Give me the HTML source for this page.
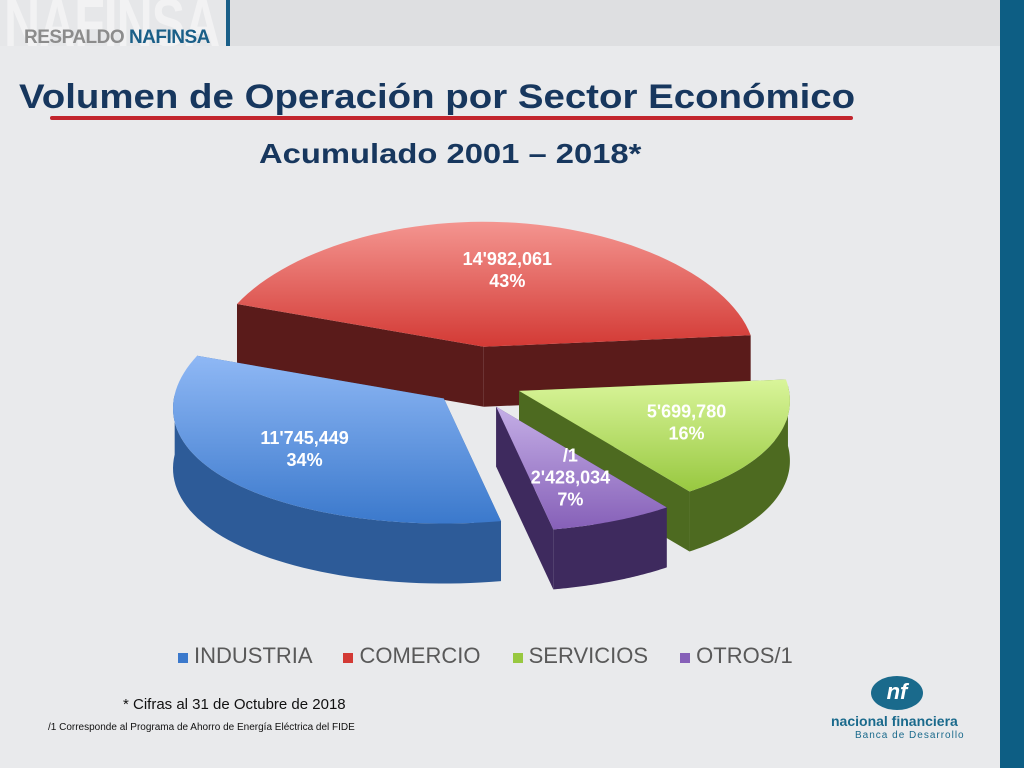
<!DOCTYPE html>
<html><head><meta charset="utf-8">
<style>
body{margin:0;width:1024px;height:768px;overflow:hidden;background:#e9eaec;font-family:"Liberation Sans",sans-serif;position:relative}
.abs{position:absolute}
</style></head>
<body>
<div class="abs" style="left:0;top:0;width:1000px;height:46px;background:#dedfe1"></div>
<div class="abs" style="left:0;top:0;width:226px;height:46px;background:#e6e7e9;overflow:hidden">
<div class="abs" style="left:4px;top:-16px;font-size:50px;font-weight:bold;color:#f2f2f3;letter-spacing:-1px;transform:scaleY(1.35);transform-origin:left top">NAFINSA</div>
</div>
<div class="abs" style="left:24px;top:27px;font-size:19px;font-weight:bold;color:#8c8c8c;letter-spacing:-0.5px">RESPALDO <span style="color:#1a5f88">NAFINSA</span></div>
<div class="abs" style="left:226px;top:0;width:4px;height:46px;background:#1a5f88"></div>
<div class="abs" style="left:1000px;top:0;width:24px;height:768px;background:#0d5e84"></div>
<div class="abs" style="left:19px;top:78px;font-size:34px;font-weight:bold;color:#17375e;transform:scaleX(1.13);transform-origin:left top;white-space:nowrap">Volumen de Operación por Sector Económico</div>
<div class="abs" style="left:50px;top:116px;width:803px;height:4px;background:#c2252d;border-radius:2px"></div>
<div class="abs" style="left:259px;top:138px;font-size:28px;font-weight:bold;color:#17375e;transform:scaleX(1.17);transform-origin:left top;white-space:nowrap">Acumulado 2001 – 2018*</div>

<svg class="abs" style="left:0;top:0" width="1000" height="768">
<defs>
<linearGradient id="g0" x1="0" y1="0" x2="0" y2="1"><stop offset="0" stop-color="#8fb8f5"/><stop offset="1" stop-color="#3b79cc"/></linearGradient>
<linearGradient id="g1" x1="0" y1="0" x2="0" y2="1"><stop offset="0" stop-color="#f49590"/><stop offset="1" stop-color="#d33a35"/></linearGradient>
<linearGradient id="g2" x1="0" y1="0" x2="0" y2="1"><stop offset="0" stop-color="#d9f59a"/><stop offset="1" stop-color="#98c840"/></linearGradient>
<linearGradient id="g3" x1="0" y1="0" x2="0" y2="1"><stop offset="0" stop-color="#c4aee6"/><stop offset="1" stop-color="#8660b8"/></linearGradient>
</defs>
<g id="pie"></g>
</svg>

<div class="abs" style="left:178px;top:643px;font-size:22px;color:#595959;white-space:nowrap">
<span><span style="display:inline-block;width:10px;height:10px;background:#3b79cc;margin-right:6px"></span>INDUSTRIA</span>
<span style="margin-left:26px"><span style="display:inline-block;width:10px;height:10px;background:#d33a35;margin-right:6px"></span>COMERCIO</span>
<span style="margin-left:26px"><span style="display:inline-block;width:10px;height:10px;background:#98c840;margin-right:6px"></span>SERVICIOS</span>
<span style="margin-left:26px"><span style="display:inline-block;width:10px;height:10px;background:#8660b8;margin-right:6px"></span>OTROS/1</span>
</div>
<div class="abs" style="left:123px;top:696px;font-size:15px;color:#111">* Cifras al 31 de Octubre de 2018</div>
<div class="abs" style="left:48px;top:722px;font-size:10px;color:#111">/1 Corresponde al Programa de Ahorro de Energía Eléctrica del FIDE</div>

<div class="abs" style="left:871px;top:676px;width:52px;height:34px;border-radius:50%;background:#1a6a8c;color:#fff;font-weight:bold;font-size:22px;text-align:center;line-height:32px;font-style:italic">nf</div>
<div class="abs" style="left:831px;top:713px;font-size:14px;font-weight:bold;color:#1a6a8c">nacional financiera</div>
<div class="abs" style="left:855px;top:730px;font-size:10px;color:#1a6a8c;letter-spacing:1px">Banca de Desarrollo</div>

<script>
const categories=["COMERCIO","SERVICIOS","OTROS","INDUSTRIA"];
const values=[14982061,5699780,2428034,11745449];
const valueLabels=["14'982,061","5'699,780","2'428,034","11'745,449"];
const prefixLabels=["","","/1",""];
const tops=["url(#g1)","url(#g2)","url(#g3)","url(#g0)"];
const sides=["#5a1b1a","#4d6a20","#3e2a5e","#2d5b98"];
const cx=478,cy=378,rx=270,ry=125,depth=60,explode=45,startAngle=-70;
const NS="http://www.w3.org/2000/svg";
const g=document.getElementById('pie');
const total=values.reduce((a,b)=>a+b,0);
const rad=d=>d*Math.PI/180;
let a=startAngle;
const slices=values.map((v,i)=>{const s=a,e=a+v/total*360;a=e;return{i,s,e,m:(s+e)/2};});
function pt(ox,oy,t,dz){const c=Math.cos(rad(t));return [ox+rx*Math.sin(rad(t))*(1-0.08*c),oy-ry*c+dz];}
function mk(tag,attrs,name){const el=document.createElementNS(NS,tag);for(const k in attrs)el.setAttribute(k,attrs[k]);


g.appendChild(el);return el;}
const order=[...slices].sort((p,q)=>Math.cos(rad(q.m))-Math.cos(rad(p.m)));
order.forEach(sl=>{
  const i=sl.i;
  const ox=cx+explode*Math.sin(rad(sl.m)),oy=cy-explode*0.7*Math.cos(rad(sl.m));
  const n=60,arc=[];
  for(let k=0;k<=n;k++)arc.push(sl.s+(sl.e-sl.s)*k/n);
  [sl.s,sl.e].forEach((t,j)=>{
    const p=pt(ox,oy,t,0),q=pt(ox,oy,t,depth);
    mk('path',{d:`M${ox},${oy}L${p[0]},${p[1]}L${q[0]},${q[1]}L${ox},${oy+depth}Z`,fill:sides[i]},'slice-side-'+categories[i].toLowerCase()+'-'+j);
  });
  const fr=arc.filter(t=>Math.cos(rad(t))<0.05);
  if(fr.length>1){
    let d='M'+fr.map(t=>pt(ox,oy,t,0).join(',')).join('L');
    d+='L'+fr.slice().reverse().map(t=>pt(ox,oy,t,depth).join(',')).join('L')+'Z';
    mk('path',{d,fill:sides[i]},'slice-wall-'+categories[i].toLowerCase());
  }
  const d='M'+ox+','+oy+'L'+arc.map(t=>pt(ox,oy,t,0).join(',')).join('L')+'Z';
  mk('path',{d,fill:tops[i]},'slice-'+categories[i].toLowerCase());
  const lx=ox+rx*0.68*Math.sin(rad(sl.m)),ly=oy-ry*0.62*Math.cos(rad(sl.m));
  const pct=Math.round(values[i]/total*100)+'%';
  const lines=(prefixLabels[i]?[prefixLabels[i]]:[]).concat([valueLabels[i],pct]);
  const t=mk('text',{x:lx,y:ly-(lines.length-1)*11+6,'text-anchor':'middle','font-family':'Liberation Sans, sans-serif','font-size':'18','font-weight':'bold',fill:'#fff'},'data-label-'+categories[i].toLowerCase());
  lines.forEach((L,k)=>{const ts=document.createElementNS(NS,'tspan');ts.setAttribute('x',lx);ts.setAttribute('dy',k?22:0);ts.textContent=L;t.appendChild(ts);});
});
</script>
</body></html>
